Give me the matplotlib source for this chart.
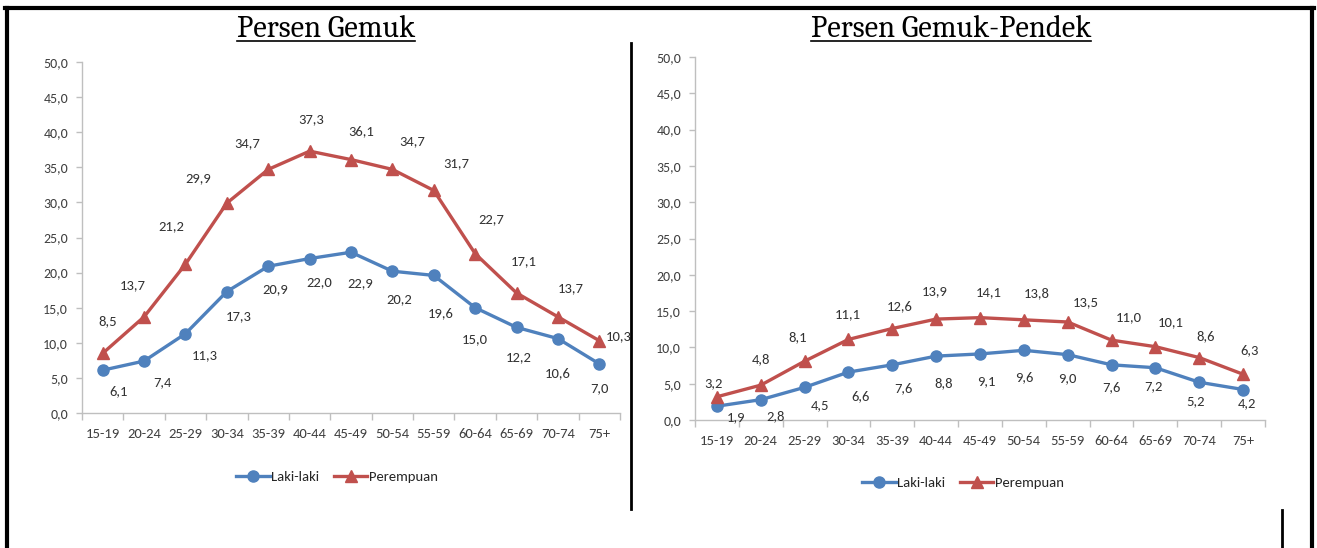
import matplotlib.pyplot as plt
from matplotlib.lines import Line2D

# kelompok umur
groups = ['15-19', '20-24', '25-29', '30-34', '35-39', '40-44', '45-49',
          '50-54', '55-59', '60-64', '65-69', '70-74', '75+']

# persen gemuk
gemuk_laki = [6.1, 7.4, 11.3, 17.3, 20.9, 22.0, 22.9, 20.2, 19.6, 15.0, 12.2, 10.6, 7.0]
gemuk_perempuan = [8.5, 13.7, 21.2, 29.9, 34.7, 37.3, 36.1, 34.7, 31.7, 22.7, 17.1, 13.7, 10.3]

# persen gemuk-pendek
pendek_laki = [1.9, 2.8, 4.5, 6.6, 7.6, 8.8, 9.1, 9.6, 9.0, 7.6, 7.2, 5.2, 4.2]
pendek_perempuan = [3.2, 4.8, 8.1, 11.1, 12.6, 13.9, 14.1, 13.8, 13.5, 11.0, 10.1, 8.6, 6.3]

yticks = [0, 5, 10, 15, 20, 25, 30, 35, 40, 45, 50]

# geser label data (piksel, x ke kanan, y ke bawah)
off_gemuk_p = [(5, -32), (-11, -32), (-14, -38), (-29, -25), (-21, -26), (2, -32), (10, -28),
               (20, -28), (22, -27), (16, -34), (7, -32), (13, -29), (19, -5)]
off_gemuk_l = [(16, 21), (18, 21), (19, 21), (12, 25), (7, 23), (10, 24), (9, 31),
               (7, 28), (7, 38), (0, 31), (2, 30), (0, 35), (0, 24)]
off_pendek_p = [(-3, -14), (0, -26), (-7, -24), (-1, -25), (7, -22), (-1, -28), (9, -25),
                (13, -27), (18, -20), (17, -23), (15, -25), (6, -21), (6, -24)]
off_pendek_l = [(19, 11), (15, 16), (15, 18), (12, 24), (11, 23), (8, 27), (6, 27),
                (0, 27), (0, 23), (0, 22), (-2, 18), (-4, 19), (4, 14)]

BLUE = '#4F81BD'
RED = '#C0504D'
W, H = 1317, 548

plt.rcParams['font.family'] = ['Carlito', 'DejaVu Sans']
plt.rcParams['font.stretch'] = 'condensed'

fig = plt.figure(figsize=(W / 100, H / 100), dpi=100)


def fmt(v):
    return f'{v:.1f}'.replace('.', ',')


def px(x, y):
    return x / W, 1 - y / H


def chart(rect, laki, perempuan, off_l, off_p, leg_pos):
    ax = fig.add_axes(rect)
    x = list(range(len(groups)))
    ax.plot(x, laki, color=BLUE, lw=2.4, marker='o', ms=8, clip_on=False,
            label='Laki-laki', zorder=3)
    ax.plot(x, perempuan, color=RED, lw=2.4, marker='^', ms=8.5, clip_on=False,
            label='Perempuan', zorder=3)
    for i, v in enumerate(laki):
        ax.annotate(fmt(v), (i, v), xytext=(off_l[i][0], -off_l[i][1]),
                    textcoords='offset pixels', ha='center', va='center',
                    fontsize=10.5, color='#333333')
    for i, v in enumerate(perempuan):
        ax.annotate(fmt(v), (i, v), xytext=(off_p[i][0], -off_p[i][1]),
                    textcoords='offset pixels', ha='center', va='center',
                    fontsize=10.5, color='#333333')

    ax.set_xlim(-0.5, len(groups) - 0.5)
    ax.set_ylim(0, 50)
    ax.set_yticks(yticks)
    ax.set_yticklabels([fmt(t) for t in yticks])
    ax.set_xticks(x)
    ax.set_xticklabels(groups)
    ax.set_xticks([i - 0.5 for i in range(len(groups) + 1)], minor=True)

    for s in ['top', 'right']:
        ax.spines[s].set_visible(False)
    for s in ['left', 'bottom']:
        ax.spines[s].set_color('#BFBFBF')
        ax.spines[s].set_linewidth(1)
    ax.tick_params(axis='y', length=4, width=1, color='#BFBFBF', pad=6,
                   labelsize=10, labelcolor='#404040')
    ax.tick_params(axis='x', which='major', length=0, pad=11,
                   labelsize=10.5, labelcolor='#404040')
    ax.tick_params(axis='x', which='minor', length=5, width=1, color='#BFBFBF')

    fig.legend(handles=ax.get_lines(), loc='center', bbox_to_anchor=px(*leg_pos),
               ncol=2, frameon=False, fontsize=10.5, handlelength=2.3,
               handletextpad=0.1, columnspacing=1.0, labelcolor='#262626')
    return ax


chart([82 / W, 1 - 413 / H, 538 / W, 351 / H], gemuk_laki, gemuk_perempuan,
      off_gemuk_l, off_gemuk_p, (337, 477))
chart([695 / W, 1 - 420 / H, 570 / W, 363 / H], pendek_laki, pendek_perempuan,
      off_pendek_l, off_pendek_p, (963, 483))

# judul bergaris bawah
fig.canvas.draw()
for cx, title in [(326, 'Persen Gemuk'), (951, 'Persen Gemuk-Pendek')]:
    t = fig.text(*px(cx, 37), title, ha='center', va='baseline', fontsize=22,
                 family=['Caladea', 'Liberation Serif'], fontstretch='normal',
                 color='black')
    fig.canvas.draw()
    bb = t.get_window_extent()
    fig.add_artist(Line2D([bb.x0 / W, bb.x1 / W], [px(0, 41)[1]] * 2,
                          color='black', lw=1.2))

# garis bingkai
frame = [((5, 8), (1314, 8), 3), ((7, 8), (7, 548), 3), ((1312, 8), (1312, 548), 3),
         ((631, 43), (631, 509), 2), ((1282, 510), (1282, 548), 2)]
for (x0, y0), (x1, y1), lw in frame:
    a, b = px(x0, y0), px(x1, y1)
    fig.add_artist(Line2D([a[0], b[0]], [a[1], b[1]], color='black', lw=lw))

fig.savefig('out.png', dpi=100)
